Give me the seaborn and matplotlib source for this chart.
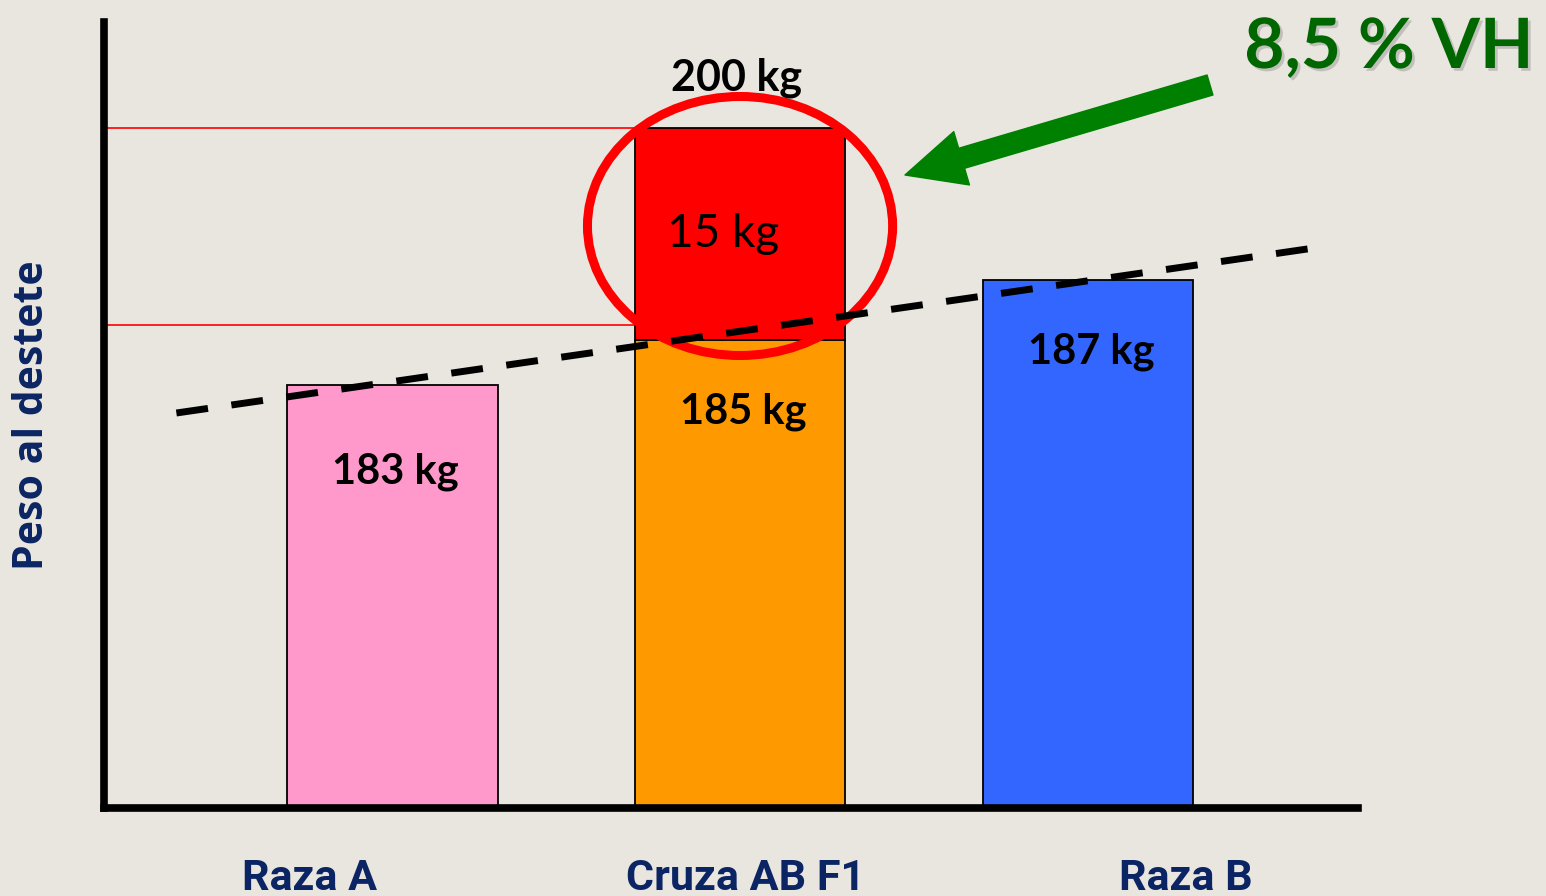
import matplotlib
matplotlib.use('Agg')
import matplotlib.pyplot as plt
import matplotlib.patheffects as pe
from matplotlib.patches import Ellipse, FancyArrowPatch
import pandas as pd
import seaborn as sns

# data (bar heights are schematic, the y axis has no scale)
razas = ['Raza A', 'Cruza AB F1', 'Raza B']
pesos_kg = [183, 185, 187]
altura_barra = [423, 468, 528]
vh_kg = 15
altura_vh = 212
total_kg = 200
lineas_ref = [680, 483]
tendencia_x = [-0.62, 2.65]
tendencia_y = [395, 560]
vh_texto = '8,5 % VH'
colores = ['#FF99CC', '#FF9900', '#3366FF']

BG = '#E8E6DF'
NAVY = '#0B2463'

sns.set_theme(style='white', rc={'axes.facecolor': BG, 'figure.facecolor': BG})
plt.rcParams['font.family'] = ['Lato', 'DejaVu Sans']

W, H = 1546, 896
fig = plt.figure(figsize=(W / 100, H / 100), dpi=100)
ax = fig.add_axes([104 / W, 88 / H, 1254 / W, 786 / H])

df = pd.DataFrame({'raza': razas, 'altura': altura_barra})
sns.barplot(data=df, x='raza', y='altura', hue='raza', palette=colores,
            width=0.606, saturation=1, edgecolor='black', linewidth=1.3,
            legend=False, ax=ax)

# heterosis segment stacked on the cross
mid = ax.patches[1]
xc = mid.get_x() + mid.get_width() / 2
ax.bar(xc, altura_vh, width=mid.get_width(), bottom=altura_barra[1],
       color='#FF0000', edgecolor='black', linewidth=1.3, zorder=2)

ax.set_xlim(-0.828, 2.776)
ax.set_ylim(0, 786)

ax.hlines(lineas_ref, -0.828, mid.get_x(), color='#FF0000', lw=1.2, zorder=1)

ring = Ellipse((xc, altura_barra[1] + altura_vh / 2 + 8), 0.877, 259,
               fill=False, edgecolor='#FF0000', lw=6.5, zorder=3)
ax.add_patch(ring)

ax.plot(tendencia_x, tendencia_y, color='black', lw=5, dashes=(4.6, 3.4),
        zorder=4, solid_capstyle='butt', dash_capstyle='butt')

# value labels
for i, (peso, alt) in enumerate(zip(pesos_kg, altura_barra)):
    dy = 87 if i == 0 else 72
    ax.text(i + 0.01, alt - dy, f'{peso} kg', ha='center', va='center',
            fontsize=30, fontweight='bold', color='black', zorder=5)
ax.text(xc - 0.05, altura_barra[1] + altura_vh / 2, f'{vh_kg} kg',
        ha='center', va='center', fontsize=33, color='black', zorder=5)
ax.text(xc - 0.01, altura_barra[1] + altura_vh + 50, f'{total_kg} kg',
        ha='center', va='center', fontsize=31, fontweight='bold',
        color='black', zorder=5)

for side in ['top', 'right']:
    ax.spines[side].set_visible(False)
for side in ['left', 'bottom']:
    ax.spines[side].set_linewidth(5.5)
    ax.spines[side].set_color('black')

ax.set_yticks([])
ax.set_ylabel('')
ax.set_xlabel('')
ax.set_xticks([-0.236, 1.017, 2.28], razas)
ax.tick_params(axis='x', length=0, pad=36)
for lab in ax.get_xticklabels():
    lab.set_family(['Roboto', 'DejaVu Sans'])
    lab.set_fontweight('bold')
    lab.set_fontsize(31)
    lab.set_color(NAVY)

fig.text(33 / W, 1 - 415 / H, 'Peso al destete', rotation=90,
         ha='center', va='center', fontsize=29.5, fontweight='bold',
         color=NAVY, family=['Open Sans', 'DejaVu Sans'])

arrow = FancyArrowPatch((1210 / W, 1 - 85 / H), (905 / W, 1 - 175 / H),
                        transform=fig.transFigure,
                        arrowstyle='simple,head_length=0.85,head_width=0.8,tail_width=0.3',
                        mutation_scale=50, color='#008000', shrinkA=0, shrinkB=0)
fig.add_artist(arrow)

fig.text(1389 / W, 1 - 68 / H, vh_texto, ha='center', va='baseline',
         fontsize=50, fontweight='bold', color='#006600',
         path_effects=[pe.withSimplePatchShadow(offset=(2, -2),
                                                shadow_rgbFace='#777777',
                                                alpha=0.35)])

fig.savefig('out.png', dpi=100, facecolor=BG)
